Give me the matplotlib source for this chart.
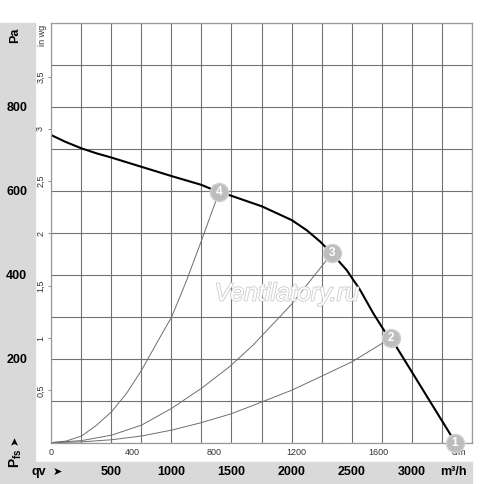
import numpy as np
import matplotlib.pyplot as plt
import matplotlib.patheffects as pe
from matplotlib.patches import Rectangle

plt.rcParams['font.family'] = ['Liberation Sans', 'DejaVu Sans']
plt.rcParams['mathtext.fontset'] = 'custom'
plt.rcParams['mathtext.rm'] = 'Liberation Sans'
plt.rcParams['mathtext.bf'] = 'Liberation Sans:bold'

# Fan curve (m3/h, Pa)
fan_q = [0, 125, 254, 380, 503, 752, 1001, 1250, 1400, 1488, 1751, 2001, 2125, 2236,
         2333, 2457, 2568, 2678, 2775, 2823, 3356]
fan_p = [733, 716, 701, 689, 679, 657, 635, 614, 596, 589, 563, 530, 506, 479,
         451, 411, 364, 308, 264, 250, 2]

# System curves through operating points 4, 3, 2
sys4_q = [0, 130, 257, 382, 506, 631, 755, 880, 1005, 1129, 1254, 1370, 1400]
sys4_p = [0, 4, 16, 42, 74, 118, 173, 237, 300, 387, 483, 575, 596]
sys3_q = [0, 257, 506, 755, 1005, 1254, 1489, 1682, 2001, 2291, 2338]
sys3_p = [0, 5, 18, 42, 82, 130, 182, 233, 330, 435, 451]
sys2_q = [0, 257, 506, 755, 1005, 1254, 1489, 1655, 2001, 2254, 2503, 2755, 2823]
sys2_p = [0, 2, 7, 16, 30, 48, 68, 86, 125, 159, 193, 237, 250]

# Operating points
op_labels = ['1', '2', '3', '4']
op_q = [3356, 2823, 2338, 1400]
op_p = [0, 250, 451, 596]

pa_ticks = [200, 400, 600, 800]
m3h_ticks = [500, 1000, 1500, 2000, 2500, 3000]
cfm_ticks = [0, 400, 800, 1200, 1600]
inwg_ticks = [0.5, 1, 1.5, 2, 2.5, 3, 3.5]

W, H = 500, 484
fig = plt.figure(figsize=(W / 100, H / 100), dpi=100)
band = '#d9d9d9'
fig.patches.append(Rectangle((0, 0), 35 / W, 1 - 22.7 / H, transform=fig.transFigure,
                             color=band, zorder=-5))
fig.patches.append(Rectangle((0, 0), 472 / W, 22 / H, transform=fig.transFigure,
                             color=band, zorder=-5))

ax = fig.add_axes([50.7 / W, 1 - 442.7 / H, 421.6 / W, 420 / H])
ax.set_xlim(0, 3500)
ax.set_ylim(0, 1000)
ax.set_xticks(np.arange(0, 3501, 250))
ax.set_yticks(np.arange(0, 1001, 100))
ax.grid(True, color='#727272', lw=0.8)
ax.tick_params(length=0, labelsize=9)
ax.set_xticklabels([f'{v:g}' if v in m3h_ticks else '' for v in ax.get_xticks()],
                   fontweight='bold')
ax.set_yticklabels([f'{v:g}' if v in pa_ticks else '' for v in ax.get_yticks()],
                   fontweight='bold')
ax.tick_params(axis='x', pad=16.5)
ax.tick_params(axis='y', pad=16.8)
for s in ax.spines.values():
    s.set_color('#9a9a9a')
    s.set_linewidth(0.9)

# secondary scales
sec_y = ax.secondary_yaxis('left', functions=(lambda p: p / 249.089, lambda i: i * 249.089))
sec_y.set_yticks(inwg_ticks)
sec_y.set_yticklabels([f'{v:g}'.replace('.', ',') for v in inwg_ticks],
                      rotation=90, va='center', fontsize=6.5, color='#333333')
sec_y.tick_params(length=2.5, width=0.6, color='#777777', pad=1.5)
sec_y.spines['left'].set_visible(False)

sec_x = ax.secondary_xaxis('bottom', functions=(lambda q: q * 0.588578, lambda c: c / 0.588578))
sec_x.set_xticks(cfm_ticks)
sec_x.tick_params(length=0, labelsize=6.5, labelcolor='#333333', pad=4)
sec_x.spines['bottom'].set_visible(False)

# curves
ax.plot(sys4_q, sys4_p, color='#6e6e6e', lw=0.7)
ax.plot(sys3_q, sys3_p, color='#6e6e6e', lw=0.7)
ax.plot(sys2_q, sys2_p, color='#6e6e6e', lw=0.7)
ax.plot(fan_q, fan_p, color='black', lw=1.5)

ax.text(1960, 355, 'Ventilatory.ru', fontsize=18, style='italic', color='white',
        ha='center', va='center',
        path_effects=[pe.withStroke(linewidth=1.2, foreground='#cccccc')])

ax.text(3390, -23, 'cfm', fontsize=6.5, color='#333333', ha='center', va='center',
        clip_on=False)
for lab, q, p in zip(op_labels, op_q, op_p):
    ax.plot(q, p, 'o', ms=13, color='#bdbdbd', mec='#d0d0d0', clip_on=False, zorder=5)
    ax.text(q, p, lab, color='white', fontsize=8.5, fontweight='bold', ha='center',
            va='center', zorder=6, clip_on=False)

# axis titles
fig.text(15 / W, 1 - 35 / H, 'Pa', rotation=90, fontsize=9, fontweight='bold',
         ha='center', va='center')
fig.text(42.5 / W, 1 - 35 / H, 'in wg', rotation=90, fontsize=6.5, color='#333333',
         ha='center', va='center')
fig.text(15 / W, 1 - 440 / H, '➤', rotation=90, fontsize=8, ha='center', va='center')
fig.text(16 / W, 1 - 458 / H, r'$\mathbf{P_{fs}}$', rotation=90, fontsize=10,
         ha='center', va='center')
fig.text(39 / W, 1 - 472 / H, 'qv', fontsize=9, fontweight='bold', ha='center', va='center')
fig.text(57 / W, 1 - 472 / H, '➤', fontsize=8, ha='center', va='center')
fig.text(453 / W, 1 - 472 / H, 'm³/h', fontsize=9, fontweight='bold', ha='center', va='center')

fig.savefig('out.png', dpi=100)
